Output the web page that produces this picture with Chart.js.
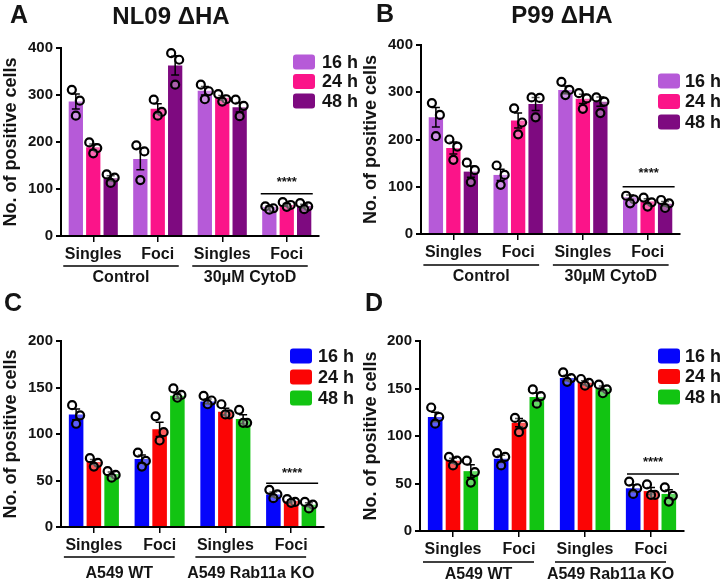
<!DOCTYPE html>
<html><head><meta charset="utf-8">
<script src="https://cdn.jsdelivr.net/npm/chart.js@4.4.1/dist/chart.umd.min.js"></script>
<style>
html,body{margin:0;padding:0;background:#fff;}
#wrap{position:relative;width:723px;height:585px;overflow:hidden;background:#fff;}
canvas{position:absolute;}
</style></head><body>
<div id="wrap">
<canvas id="cA" width="360" height="290" style="left:0;top:0"></canvas>
<canvas id="cB" width="363" height="290" style="left:360px;top:0"></canvas>
<canvas id="cC" width="360" height="295" style="left:0;top:290px"></canvas>
<canvas id="cD" width="363" height="295" style="left:360px;top:290px"></canvas>
</div>
<script>
// ---------- shared labels ----------
const timeLabels = ['16 h', '24 h', '48 h'];
const categories = ['Singles', 'Foci', 'Singles', 'Foci'];
const groupsAB = ['Control', '30\u03bcM CytoD'];
const groupsCD = ['A549 WT', 'A549 Rab11a KO'];
const yTicksAB = [0, 100, 200, 300, 400];
const yTicksCD = [0, 50, 100, 150, 200];
const colorsAB = ['#b65ad8', '#fb1489', '#7e0a80'];
const colorsCD = ['#0505fb', '#fb0505', '#12c412'];

// ---------- Panel A: NL09 ΔHA ----------
const a16 = [286, 164, 309, 62];
const a24 = [189, 271, 294, 66];
const a48 = [123, 363, 274, 64];
const a16pts = [[311, 288, 256], [193, 180, 119], [322, 308, 291], [63, 59, 56]];
const a24pts = [[199, 187, 176], [290, 264, 256], [302, 291, 286], [72, 66, 62]];
const a48pts = [[131, 124, 113], [389, 375, 322], [290, 277, 255], [70, 63, 57]];

// ---------- Panel B: P99 ΔHA ----------
const b16 = [247, 125, 305, 78];
const b24 = [182, 240, 286, 69];
const b48 = [132, 275, 280, 64];
const b16pts = [[277, 252, 207], [145, 125, 104], [322, 305, 294], [81, 73, 65]];
const b24pts = [[200, 185, 157], [266, 236, 211], [298, 287, 265], [77, 67, 58]];
const b48pts = [[151, 135, 110], [289, 288, 247], [289, 280, 256], [72, 65, 55]];

// ---------- Panel C ----------
const c16 = [121, 73, 135, 35];
const c24 = [70, 105, 124, 28];
const c48 = [57, 141, 116, 24];
const c16pts = [[131, 120, 111], [80, 71, 65], [141, 136, 132], [40, 35, 31]];
const c24pts = [[74, 69, 65], [119, 102, 93], [132, 121, 121], [30, 27, 26]];
const c48pts = [[60, 56, 53], [149, 142, 139], [126, 112, 112], [27, 24, 20]];

// ---------- Panel D ----------
const d16 = [120, 76, 161, 45];
const d24 = [74, 114, 156, 42];
const d48 = [63, 141, 150, 39];
const d16pts = [[130, 120, 113], [82, 78, 69], [167, 161, 157], [52, 45, 39]];
const d24pts = [[78, 74, 69], [119, 112, 104], [160, 156, 153], [49, 38, 38]];
const d48pts = [[74, 62, 51], [149, 142, 134], [154, 149, 145], [46, 37, 31]];

const FONT = '"Liberation Sans", Arial, sans-serif';
const INK = '#141414';

const overlay = {
  id: 'overlay',
  afterDatasetsDraw(chart, args, o) {
    const ctx = chart.ctx, xs = chart.scales.x, ys = chart.scales.y;
    ctx.save();
    // error bars (SEM of replicates)
    chart.data.datasets.forEach((ds, di) => {
      chart.getDatasetMeta(di).data.forEach((bar, i) => {
        const pts = o.points[di][i], n = pts.length, m = ds.data[i];
        const mean = pts.reduce((a, b) => a + b, 0) / n;
        const sd = Math.sqrt(pts.reduce((a, b) => a + (b - mean) ** 2, 0) / (n - 1));
        const sem = sd / Math.sqrt(n);
        const yt = ys.getPixelForValue(m + sem), yb = ys.getPixelForValue(m - sem);
        const cx = bar.x;
        ctx.strokeStyle = '#000'; ctx.lineWidth = 1.5;
        ctx.beginPath();
        ctx.moveTo(cx, yt); ctx.lineTo(cx, yb);
        ctx.moveTo(cx - 4, yt); ctx.lineTo(cx + 4, yt);
        ctx.moveTo(cx - 4, yb); ctx.lineTo(cx + 4, yb);
        ctx.stroke();
      });
    });
    // replicate points
    chart.data.datasets.forEach((ds, di) => {
      chart.getDatasetMeta(di).data.forEach((bar, i) => {
        o.points[di][i].forEach((v, k) => {
          const px = bar.x + o.jitter[k % o.jitter.length];
          const py = ys.getPixelForValue(v);
          ctx.beginPath(); ctx.arc(px, py, 4, 0, Math.PI * 2);
          ctx.fillStyle = 'rgba(255,255,255,0.35)'; ctx.fill();
          ctx.lineWidth = 2.2; ctx.strokeStyle = '#000'; ctx.stroke();
        });
      });
    });
    // significance bar
    const s = o.sig;
    const sx = xs.getPixelForValue(s.cat);
    const sy = ys.getPixelForValue(s.lineVal);
    ctx.strokeStyle = '#000'; ctx.lineWidth = 1.5;
    ctx.beginPath(); ctx.moveTo(sx + s.left, sy); ctx.lineTo(sx + s.right, sy); ctx.stroke();
    ctx.fillStyle = INK; ctx.font = 'bold 13px ' + FONT;
    ctx.textAlign = 'center'; ctx.textBaseline = 'middle';
    ctx.fillText('****', sx + (s.left + s.right) / 2, ys.getPixelForValue(s.starVal));
    ctx.restore();
  },
  afterDraw(chart, args, o) {
    const ctx = chart.ctx, xs = chart.scales.x, ca = chart.chartArea;
    ctx.save();
    // group underlines + labels
    o.groups.forEach((g, gi) => {
      const x0 = xs.getPixelForValue(gi * 2) + o.uLeft;
      const x1 = xs.getPixelForValue(gi * 2 + 1) + o.uRight;
      const uy = ca.bottom + o.uDy;
      ctx.strokeStyle = '#000'; ctx.lineWidth = 1.5;
      ctx.beginPath(); ctx.moveTo(x0, uy); ctx.lineTo(x1, uy); ctx.stroke();
      ctx.fillStyle = INK; ctx.font = 'bold 16px ' + FONT;
      ctx.textAlign = 'center'; ctx.textBaseline = 'middle';
      ctx.fillText(g, (x0 + x1) / 2, ca.bottom + o.gDy);
    });
    // legend
    const L = o.legend;
    chart.data.datasets.forEach((ds, di) => {
      const cy = L.y + di * L.step;
      ctx.fillStyle = ds.backgroundColor;
      ctx.beginPath();
      ctx.roundRect(L.x, cy - 7.5, 22, 15, 3);
      ctx.fill();
      ctx.fillStyle = INK; ctx.font = 'bold 18px ' + FONT;
      ctx.textAlign = 'left'; ctx.textBaseline = 'middle';
      ctx.fillText(ds.label, L.tx, cy + 1);
    });
    // panel letter and title
    ctx.fillStyle = INK; ctx.textBaseline = 'middle';
    ctx.font = 'bold 25px ' + FONT; ctx.textAlign = 'left';
    ctx.fillText(o.letter, o.letterX, o.letterY);
    if (o.title) {
      ctx.font = 'bold 24px ' + FONT; ctx.textAlign = 'center';
      ctx.fillText(o.title, o.titleX, o.titleY);
    }
    ctx.restore();
  }
};

function makePanel(id, p) {
  const W = p.w, H = p.h;
  new Chart(document.getElementById(id), {
    type: 'bar',
    data: {
      labels: categories,
      datasets: p.series.map((d, i) => ({
        label: timeLabels[i], data: d, backgroundColor: p.colors[i],
        borderWidth: 0, categoryPercentage: 0.81, barPercentage: 0.82
      }))
    },
    options: {
      responsive: false, animation: false, devicePixelRatio: 1,
      layout: { padding: { left: 0, top: p.area.top, right: W - p.area.right, bottom: 0 } },
      plugins: {
        legend: { display: false }, tooltip: { enabled: false },
        overlay: {
          points: p.points, jitter: [-4, 4, 0], sig: p.sig, groups: p.groups,
          uLeft: -30, uRight: p.uRight, uDy: p.uDy, gDy: p.gDy,
          legend: p.legend, letter: p.letter, letterX: p.letterX, letterY: p.letterY,
          title: p.title, titleX: p.titleX, titleY: p.titleY
        }
      },
      scales: {
        x: {
          offset: true,
          grid: { display: true, drawOnChartArea: false, offset: false, drawTicks: true, tickLength: 6, color: '#000', lineWidth: 1.5 },
          border: { display: true, color: '#000', width: 2 },
          ticks: { color: INK, font: { family: FONT, size: 16, weight: 'bold' }, padding: 3, maxRotation: 0, autoSkip: false },
          afterFit: s => { s.height = H - p.area.bottom; }
        },
        y: {
          min: 0, max: p.yTicks[p.yTicks.length - 1],
          afterBuildTicks: s => { s.ticks = p.yTicks.map(v => ({ value: v })); },
          grid: { display: true, drawOnChartArea: false, drawTicks: true, tickLength: 5, color: '#000', lineWidth: 2 },
          border: { display: true, color: '#000', width: 2 },
          ticks: { color: INK, font: { family: FONT, size: 15, weight: 'bold' }, padding: 3 },
          title: { display: true, text: 'No. of positive cells', color: INK, font: { family: FONT, size: 18, weight: 'bold' }, padding: 0 },
          afterFit: s => { s.width = p.area.left; }
        }
      }
    },
    plugins: [overlay]
  });
}

makePanel('cA', {
  w: 360, h: 290, area: { top: 48, bottom: 236, left: 61, right: 319 },
  series: [a16, a24, a48], points: [a16pts, a24pts, a48pts], colors: colorsAB, yTicks: yTicksAB,
  groups: groupsAB, uRight: 21, uDy: 30, gDy: 42,
  sig: { cat: 3, lineVal: 90, starVal: 113, left: -26, right: 26 },
  legend: { x: 293, y: 62, step: 19.5, tx: 322 },
  letter: 'A', letterX: 10, letterY: 16, title: 'NL09 \u0394HA', titleX: 171, titleY: 17
});
makePanel('cB', {
  w: 363, h: 290, area: { top: 45, bottom: 234, left: 61, right: 320 },
  series: [b16, b24, b48], points: [b16pts, b24pts, b48pts], colors: colorsAB, yTicks: yTicksAB,
  groups: groupsAB, uRight: 21, uDy: 31, gDy: 43,
  sig: { cat: 3, lineVal: 100, starVal: 128, left: -25, right: 27 },
  legend: { x: 298, y: 81, step: 20.5, tx: 325 },
  letter: 'B', letterX: 16, letterY: 15, title: 'P99 \u0394HA', titleX: 202, titleY: 16
});
makePanel('cC', {
  w: 360, h: 295, area: { top: 51, bottom: 237, left: 61, right: 324 },
  series: [c16, c24, c48], points: [c16pts, c24pts, c48pts], colors: colorsCD, yTicks: yTicksCD,
  groups: groupsCD, uRight: 15, uDy: 30, gDy: 47,
  sig: { cat: 3, lineVal: 47, starVal: 58, left: -25, right: 27 },
  legend: { x: 290, y: 66, step: 21, tx: 318 },
  letter: 'C', letterX: 4, letterY: 14, title: null
});
makePanel('cD', {
  w: 363, h: 295, area: { top: 51, bottom: 241, left: 60, right: 324 },
  series: [d16, d24, d48], points: [d16pts, d24pts, d48pts], colors: colorsCD, yTicks: yTicksCD,
  groups: groupsCD, uRight: 15, uDy: 31, gDy: 44,
  sig: { cat: 3, lineVal: 60, starVal: 72, left: -24, right: 28 },
  legend: { x: 298, y: 66, step: 20.5, tx: 325 },
  letter: 'D', letterX: 5, letterY: 14, title: null
});
</script>
</body></html>
